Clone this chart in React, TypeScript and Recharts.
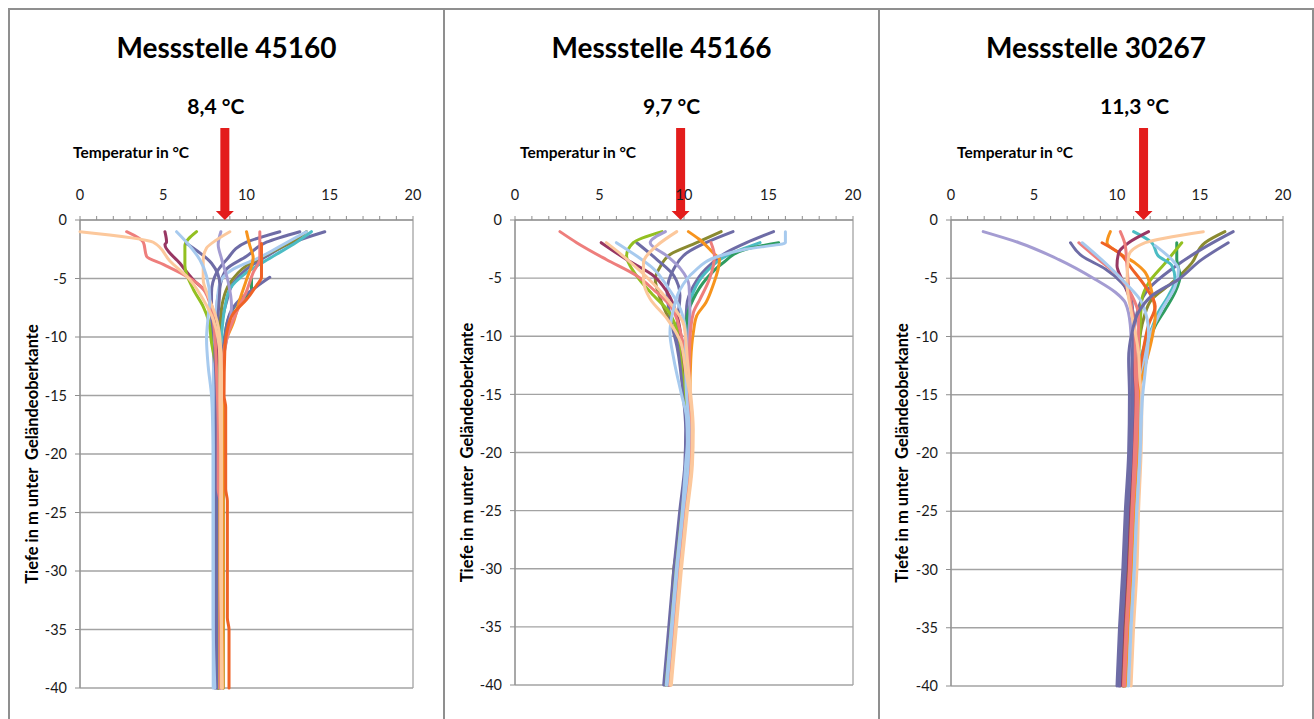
import React from 'react';
import { ScatterChart, Scatter, XAxis, YAxis, CartesianGrid, ReferenceDot } from 'recharts';

type Pt = [number, number];
interface Series { c: string; pts: Pt[] }

const FONT = 'Lato, "Open Sans", sans-serif';

const COLORS: Record<string, string> = {
  slate: '#6E6CA6',
  maroon: '#983763',
  lime: '#93C021',
  lightBlue: '#A7CAEE',
  peach: '#FCC89C',
  salmon: '#EE7E7C',
  orange: '#F7941E',
  redOrange: '#EF6226',
  teal: '#4CBCC4',
  olive: '#8A8A30',
  green: '#2F9C60',
  lavender: '#A49CD2',
};

const TITLES = ['Messstelle 45160', 'Messstelle 45166', 'Messstelle 30267'];
const MEAN_LABELS = ['8,4 °C', '9,7 °C', '11,3 °C'];
const ARROW_AT = [8.7, 9.8, 11.6];
const X_AXIS_TITLE = 'Temperatur in °C';
const Y_AXIS_TITLE = 'Tiefe in m unter  Geländeoberkante';
const X_TICKS = [0, 1, 2, 3, 4, 5, 6, 7, 8, 9, 10, 11, 12, 13, 14, 15, 16, 17, 18, 19, 20];
const GRID_X = [0, 5, 10, 15, 20];
const Y_TICKS = [0, -5, -10, -15, -20, -25, -30, -35, -40];

const p1Series: Series[] = [
  { c: 'slate', pts: [[14.7, -1], [12.8, -1.9], [11.2, -3.1], [10, -4.2], [9.2, -5.4], [8.8, -7], [8.5, -9], [8.4, -12], [8.3, -20], [8.3, -40]] },
  { c: 'olive', pts: [[13.6, -1], [12.8, -1.8], [11.4, -2.8], [10, -3.9], [9, -5.4], [8.6, -6.8], [8.4, -9], [8.3, -12], [8.3, -40]] },
  { c: 'teal', pts: [[13.9, -1], [13, -1.9], [11.6, -3.1], [10, -4.5], [9, -5.9], [8.7, -7.5], [8.5, -10], [8.4, -14], [8.4, -40]] },
  { c: 'slate', pts: [[13.2, -1], [11.2, -1.9], [10, -3.1], [8.8, -4.2], [8.4, -5.7], [8.2, -8], [8.2, -12], [8.2, -40]] },
  { c: 'slate', pts: [[12, -1], [10, -1.9], [8.8, -3.4], [8.2, -4.5], [7.9, -6.2], [7.9, -8], [8.0, -11], [8.1, -15], [8.1, -40]] },
  { c: 'lightBlue', pts: [[13.6, -1], [12.2, -2.1], [10.8, -3.2], [9.2, -4.2], [8.4, -5.4], [8.2, -7.5], [8.1, -10], [8.0, -14], [8.0, -40]] },
  { c: 'green', pts: [[10.3, -5], [10.3, -6], [10.0, -6.5], [9.4, -7.2], [8.9, -8.5], [8.7, -10], [8.6, -13], [8.6, -40]] },
  { c: 'slate', pts: [[11.4, -4.9], [10.6, -5.7], [9.6, -6.8], [9.0, -8], [8.7, -10], [8.5, -13], [8.4, -40]] },
  { c: 'orange', pts: [[10, -1], [10.2, -2.2], [10.4, -3.2], [10, -5.1], [9.6, -6.8], [9.2, -8.8], [8.8, -10.2], [8.6, -12], [8.6, -40]] },
  { c: 'maroon', pts: [[5.1, -1], [5.2, -1.9], [5.1, -2.1], [6.0, -3.7], [6.8, -5.1], [7.6, -6.2], [8.0, -7.9], [8.2, -10], [8.2, -15], [8.3, -40]] },
  { c: 'lime', pts: [[7.0, -1], [6.3, -2.2], [6.3, -3.9], [6.8, -5.9], [7.4, -7.4], [7.7, -8.5], [7.9, -10.5], [8.2, -13], [8.3, -20], [8.3, -40]] },
  { c: 'slate', pts: [[6.4, -2], [7.9, -3.7], [8.4, -5.5], [8.3, -8], [8.1, -11], [8.2, -15], [8.2, -40]] },
  { c: 'lavender', pts: [[8.46, -1], [8.3, -2.1], [8.5, -3.3], [8.9, -5.3], [9.1, -7.3], [8.9, -9.5], [8.6, -12], [8.5, -15], [8.5, -40]] },
  { c: 'salmon', pts: [[2.8, -1], [3.8, -1.9], [4.0, -3.1], [5.0, -3.8], [6.5, -4.9], [7.4, -5.9], [7.9, -7.7], [8.1, -10], [8.2, -13], [8.3, -18], [8.3, -23], [8.4, -24], [8.4, -40]] },
  { c: 'salmon', pts: [[10.8, -1], [10.8, -3.3], [10.4, -4.5], [10, -6.1], [9.4, -7.9], [8.9, -9.7], [8.6, -12], [8.5, -15], [8.5, -40]] },
  { c: 'redOrange', pts: [[10.9, -2], [10.9, -4.9], [10.6, -5.6], [10, -6.8], [9.2, -8], [8.8, -9.7], [8.7, -11], [8.65, -15], [8.75, -16], [8.75, -23], [8.85, -24], [8.85, -34], [8.95, -35], [8.95, -40]] },
  { c: 'peach', pts: [[9.0, -1], [8.2, -1.7], [7.6, -2.4], [7.4, -3.4], [7.4, -5.1], [7.7, -6.5], [8.1, -8], [8.4, -10], [8.5, -13], [8.5, -40]] },
  { c: 'lightBlue', pts: [[5.8, -1], [6.4, -1.9], [7.2, -3.4], [7.6, -4.8], [7.8, -6.8], [7.7, -8.2], [7.6, -10.2], [7.7, -12.5], [7.9, -15], [7.96, -17], [8.0, -20], [8.0, -34], [8.1, -40]] },
  { c: 'peach', pts: [[0, -1], [4.4, -1.9], [5.4, -3.5], [6.6, -5.1], [7.4, -6.8], [8.0, -8.5], [8.3, -10.2], [8.4, -12], [8.4, -15], [8.45, -20], [8.45, -30], [8.5, -35], [8.55, -40]] },
];

const p2Series: Series[] = [
  { c: 'slate', pts: [[15.3, -1], [13.7, -1.95], [12.5, -2.8], [11.3, -4.2], [10.55, -5.7], [10.16, -7.4], [10.1, -10], [10.05, -15], [10.2, -18], [10.15, -21], [9.85, -25], [9.5, -30], [9.2, -35], [8.9, -40]] },
  { c: 'teal', pts: [[14.5, -1.95], [12.5, -3.1], [11.3, -4.5], [10.55, -6.2], [10.26, -8.3], [10.2, -11], [10.25, -15], [10.4, -18], [10.35, -21], [10.05, -25], [9.7, -30], [9.4, -35], [9.1, -40]] },
  { c: 'green', pts: [[15.6, -1.95], [13.7, -2.5], [12.3, -3.7], [11.3, -5.1], [10.55, -6.8], [10.16, -8.5], [10.1, -11], [10.2, -15], [10.35, -18], [10.3, -21], [10.0, -25], [9.65, -30], [9.35, -35], [9.05, -40]] },
  { c: 'olive', pts: [[12.2, -1], [10.75, -1.95], [9.2, -2.95], [8.6, -4], [8.3, -5.1], [8.6, -6.8], [9.2, -8.8], [9.8, -11], [10.1, -15], [10.25, -18], [10.2, -21], [9.9, -25], [9.5, -29], [9.4, -30], [9.25, -35], [8.95, -40]] },
  { c: 'slate', pts: [[12.9, -1], [11.3, -1.95], [10.2, -2.8], [9.4, -4.2], [9.0, -6.2], [9.2, -8.5], [9.6, -11], [9.95, -15], [10.1, -18], [10.05, -21], [9.75, -25], [9.4, -30], [9.1, -35], [8.8, -40]] },
  { c: 'slate', pts: [[7.2, -1.95], [8.4, -3.4], [9.4, -4.8], [9.76, -6.5], [9.6, -9.1], [9.8, -12], [10.0, -15], [10.15, -18], [10.1, -21], [9.8, -25], [9.45, -30], [9.15, -35], [8.85, -40]] },
  { c: 'lime', pts: [[8.7, -1], [7.0, -1.95], [6.6, -3.1], [7.2, -4.8], [8.2, -6.5], [9.0, -7.7], [9.6, -9.5], [9.9, -12], [10.1, -15], [10.25, -18], [10.2, -21], [9.9, -25], [9.55, -30], [9.25, -35], [8.95, -40]] },
  { c: 'maroon', pts: [[5.1, -1.95], [6.6, -3.4], [8.2, -4.8], [9.0, -6.2], [9.6, -8.3], [9.9, -11], [10.2, -15], [10.35, -18], [10.3, -21], [10.0, -25], [9.65, -30], [9.35, -35], [9.05, -40]] },
  { c: 'lavender', pts: [[8.9, -1], [8.0, -1.95], [9.0, -3.1], [9.8, -4.2], [10.3, -5.7], [10.35, -8], [10.26, -10.3], [10.2, -13], [10.25, -15], [10.4, -18], [10.35, -21], [10.05, -25], [9.7, -30], [9.4, -35], [9.1, -40]] },
  { c: 'orange', pts: [[10.26, -1], [10.9, -1.66], [11.7, -2.8], [12.1, -3.4], [11.7, -5.7], [11.3, -7.1], [10.75, -8.25], [10.55, -9.7], [10.4, -12], [10.35, -15], [10.5, -18], [10.5, -20], [10.45, -21], [10.15, -25], [9.8, -30], [9.5, -35], [9.2, -40]] },
  { c: 'salmon', pts: [[11.6, -1.95], [11.8, -3.1], [11.5, -5.1], [10.95, -6.8], [10.55, -8], [10.35, -10.3], [10.3, -13], [10.3, -15], [10.45, -18], [10.4, -21], [10.1, -25], [9.75, -30], [9.45, -35], [9.15, -40]] },
  { c: 'salmon', pts: [[2.66, -1], [3.65, -1.95], [5.4, -3.4], [7.2, -4.8], [8.2, -6], [9.2, -7.4], [9.8, -9.7], [10.1, -12], [10.2, -15], [10.4, -18], [10.3, -21], [10.05, -25], [9.7, -30], [9.4, -35], [9.1, -40]] },
  { c: 'lightBlue', pts: [[6.0, -1.95], [7.2, -3.1], [8.2, -4.2], [9.0, -5.7], [9.8, -7.7], [10.1, -10], [10.1, -13], [10.15, -15], [10.3, -18], [10.25, -21], [9.95, -25], [9.6, -30], [9.3, -35], [9.0, -40]] },
  { c: 'peach', pts: [[5.4, -1.95], [6.4, -3.1], [7.5, -4.5], [9.0, -6.8], [10.0, -9.1], [10.2, -12], [10.4, -15], [10.55, -18], [10.5, -21], [10.2, -25], [9.85, -30], [9.55, -35], [9.25, -40]] },
  { c: 'lightBlue', pts: [[16, -1], [16, -1.95], [13.7, -2.5], [12.1, -3.1], [10.55, -4.5], [9.76, -6], [9.37, -7.7], [9.17, -9.7], [9.4, -12], [9.85, -15], [10.15, -17], [10.2, -19], [10.1, -21], [9.9, -25], [9.55, -30], [9.25, -35], [8.95, -40]] },
  { c: 'peach', pts: [[9.57, -1], [8.4, -2.2], [7.6, -3.7], [7.6, -5.1], [8.0, -6.8], [9.0, -8.5], [9.8, -10.5], [10.1, -13], [10.35, -15], [10.5, -18], [10.45, -21], [10.15, -25], [9.8, -30], [9.5, -35], [9.2, -40]] },
];

const p3Series: Series[] = [
  { c: 'lavender', pts: [[1.94, -1], [4.1, -1.95], [6.5, -3.4], [8.7, -5.1], [9.9, -6.2], [10.5, -7.1], [10.8, -9], [10.9, -12], [11.1, -15], [11.0, -20], [10.8, -25], [10.65, -30], [10.45, -35], [10.3, -40]] },
  { c: 'olive', pts: [[16.5, -1], [15.3, -1.95], [14.5, -3.7], [13.3, -5.4], [12.1, -6.8], [11.6, -8.5], [11.3, -11], [11.15, -15], [11.05, -20], [10.85, -25], [10.7, -30], [10.5, -35], [10.35, -40]] },
  { c: 'slate', pts: [[17, -1], [15.1, -2.5], [13.3, -4.2], [11.9, -5.9], [11.3, -7.5], [11.0, -10], [10.9, -13], [10.9, -15], [10.8, -20], [10.6, -25], [10.45, -30], [10.25, -35], [10.1, -40]] },
  { c: 'green', pts: [[13.6, -1.95], [13.6, -3.4], [13.8, -4.8], [13.5, -6.2], [12.9, -7.7], [12.3, -9.1], [11.8, -11], [11.4, -13], [11.2, -15], [11.1, -20], [10.9, -25], [10.75, -30], [10.55, -35], [10.4, -40]] },
  { c: 'lime', pts: [[13.9, -1.95], [12.9, -3.7], [11.9, -5.4], [11.5, -6.8], [11.4, -9], [11.3, -12], [11.25, -15], [11.15, -20], [10.95, -25], [10.8, -30], [10.6, -35], [10.45, -40]] },
  { c: 'teal', pts: [[11.0, -1], [12.1, -1.95], [12.5, -3.1], [13.3, -3.9], [13.5, -5.1], [13.1, -6.5], [12.5, -7.9], [12.1, -9.3], [11.6, -11], [11.3, -13], [11.3, -15], [11.2, -20], [11.0, -25], [10.85, -30], [10.65, -35], [10.5, -40]] },
  { c: 'lightBlue', pts: [[12.3, -2.2], [13.3, -3.4], [13.7, -4.2], [13.5, -5.7], [12.7, -7.7], [12.1, -9.5], [11.6, -12], [11.4, -15], [11.3, -20], [11.1, -25], [10.95, -30], [10.75, -35], [10.6, -40]] },
  { c: 'orange', pts: [[9.6, -1], [9.4, -1.95], [10.1, -2.8], [11.1, -3.7], [11.7, -4.5], [12.1, -6.2], [12.3, -8.2], [12.1, -10.2], [11.7, -12.5], [11.3, -15], [11.2, -20], [11.0, -25], [10.85, -30], [10.65, -35], [10.5, -40]] },
  { c: 'redOrange', pts: [[9.1, -1.95], [10.1, -2.8], [10.9, -4.2], [11.7, -5.7], [12.3, -7.4], [11.9, -9], [11.6, -11], [11.2, -15], [11.1, -20], [10.9, -25], [10.75, -30], [10.55, -35], [10.4, -40]] },
  { c: 'maroon', pts: [[11.9, -1], [10.7, -1.95], [10.1, -2.8], [10.0, -3.9], [10.3, -5.1], [10.7, -6.5], [11.0, -8.5], [11.0, -11], [11.0, -15], [10.9, -20], [10.7, -25], [10.55, -30], [10.35, -35], [10.2, -40]] },
  { c: 'slate', pts: [[7.2, -1.95], [7.9, -3.1], [9.3, -4.2], [10.3, -5.4], [10.9, -7], [11.0, -10], [10.9, -13], [10.95, -15], [10.85, -20], [10.65, -25], [10.5, -30], [10.3, -35], [10.15, -40]] },
  { c: 'salmon', pts: [[10.2, -1], [10.5, -2.2], [10.6, -3.9], [10.7, -5.7], [10.9, -7.7], [11.1, -10], [11.1, -13], [11.15, -15], [11.05, -20], [10.9, -25], [10.75, -30], [10.55, -35], [10.4, -40]] },
  { c: 'salmon', pts: [[7.7, -1.95], [8.9, -3.4], [10.1, -4.8], [10.9, -6.5], [11.3, -8.2], [11.3, -11], [11.2, -14], [11.25, -15], [11.15, -20], [10.95, -25], [10.8, -30], [10.6, -35], [10.45, -40]] },
  { c: 'peach', pts: [[15.2, -1], [11.7, -1.95], [10.7, -3.1], [10.6, -5.4], [10.9, -8.2], [11.3, -11.4], [11.4, -14], [11.5, -15], [11.45, -20], [11.3, -25], [11.2, -30], [11.0, -35], [10.85, -40]] },
  { c: 'lightBlue', pts: [[7.9, -1.95], [9.3, -3.7], [10.5, -5.4], [11.5, -7.1], [11.9, -9.7], [11.7, -13], [11.55, -15], [11.4, -20], [11.2, -25], [11.05, -30], [10.85, -35], [10.7, -40]] },
  { c: 'slate', pts: [[16.7, -1.95], [15.1, -3.4], [13.7, -5.1], [12.1, -6.5], [11.3, -7.9], [10.9, -9.7], [10.7, -11.9], [10.75, -15], [10.7, -20], [10.5, -25], [10.35, -30], [10.15, -35], [10.0, -40]] },
];

const PANELS = [
  { left: 9, width: 435, margin: { top: 190, right: 31, bottom: 31, left: 31 }, xTitleX: 64, series: p1Series },
  { left: 444, width: 435, margin: { top: 190, right: 26, bottom: 34, left: 31 }, xTitleX: 76, series: p2Series },
  { left: 879, width: 434, margin: { top: 190, right: 30, bottom: 33, left: 32 }, xTitleX: 78, series: p3Series },
];

const GRID_COLOR = '#a3a3a3';
const AXIS_COLOR = '#8e8e8e';
const TEXT_COLOR = '#1a1a1a';

const renderNone = () => <g />;

const renderXTick = (props: any) => {
  const { x, y, payload } = props;
  if (payload.value % 5 !== 0) return <g />;
  return (
    <text x={x} y={y} textAnchor="middle" fontSize={14.5} fill={TEXT_COLOR} fontFamily={FONT}>
      {payload.value}
    </text>
  );
};

function makeArrow(label: string) {
  return (p: any) => {
    const { cx, cy } = p;
    const pts = [
      [cx - 4.5, cy - 92], [cx + 4.5, cy - 92], [cx + 4.5, cy - 9], [cx + 9, cy - 9],
      [cx, cy], [cx - 9, cy - 9], [cx - 4.5, cy - 9],
    ].map((q) => q.join(',')).join(' ');
    return (
      <g>
        <polygon points={pts} fill="#E31D1C" />
        <text x={cx - 9} y={cy - 106} textAnchor="middle" fontSize={21} fontWeight="bold" fill="#000" fontFamily={FONT}>
          {label}
        </text>
      </g>
    );
  };
}

function Panel({ idx }: { idx: number }) {
  const P = PANELS[idx];
  const plotTop = P.margin.top + 30;
  const plotBottom = 719 - P.margin.bottom;
  const yMid = (plotTop + plotBottom) / 2;
  return (
    <div style={{ position: 'absolute', left: P.left, top: 0, width: P.width, height: 719 }}>
      <ScatterChart width={P.width} height={719} margin={P.margin}>
        <CartesianGrid xAxisId="g" stroke={GRID_COLOR} strokeWidth={1.3} />
        <XAxis xAxisId="g" type="number" dataKey="x" domain={[0, 20]} ticks={GRID_X} orientation="top" hide />
        <XAxis
          type="number"
          dataKey="x"
          orientation="top"
          domain={[0, 20]}
          ticks={X_TICKS}
          interval={0}
          height={30}
          tickSize={4}
          tickMargin={16}
          stroke={AXIS_COLOR}
          tick={renderXTick}
        />
        <YAxis
          type="number"
          dataKey="y"
          domain={[-40, 0]}
          ticks={Y_TICKS}
          interval={0}
          width={40}
          tickSize={5}
          tickMargin={8}
          stroke={AXIS_COLOR}
          tick={{ fill: TEXT_COLOR, fontSize: 14.5, fontFamily: FONT }}
        />
        {P.series.map((s, i) => (
          <Scatter
            key={i}
            data={s.pts.map(([x, y]) => ({ x, y }))}
            fill={COLORS[s.c]}
            line={{ stroke: COLORS[s.c], strokeWidth: 3, strokeLinejoin: 'round', strokeLinecap: 'round' }}
            lineJointType="monotoneY"
            shape={renderNone}
            isAnimationActive={false}
          />
        ))}
        <ReferenceDot x={ARROW_AT[idx]} y={0} r={0} ifOverflow="visible" shape={makeArrow(MEAN_LABELS[idx])} />
      </ScatterChart>
      <svg width={P.width} height={719} style={{ position: 'absolute', left: 0, top: 0, pointerEvents: 'none' }}>
        <text x={P.width / 2} y={58} textAnchor="middle" fontSize={28} fontWeight="bold" fill="#000" fontFamily={FONT}>
          {TITLES[idx]}
        </text>
        <text x={P.xTitleX} y={158} fontSize={15.5} fontWeight="bold" fill="#000" fontFamily={FONT}>
          {X_AXIS_TITLE}
        </text>
        <text
          transform={`translate(29, ${yMid}) rotate(-90)`}
          x={0}
          y={0}
          textAnchor="middle"
          fontSize={16.5}
          fontWeight="bold"
          fill="#000"
          fontFamily={FONT}
          style={{ whiteSpace: 'pre' }}
        >
          {Y_AXIS_TITLE}
        </text>
      </svg>
    </div>
  );
}

export default function App() {
  const borderColor = '#8f8f8f';
  const vx = [9, 444, 879, 1313];
  return (
    <div style={{ position: 'fixed', left: 0, top: 0, width: 1314, height: 719, background: '#fff', overflow: 'hidden' }}>
      {vx.map((x) => (
        <div key={x} style={{ position: 'absolute', left: x - 1, top: 9, width: 1.5, height: 720, background: borderColor }} />
      ))}
      <div style={{ position: 'absolute', left: 8, top: 8, width: 1306, height: 1.5, background: borderColor }} />
      <Panel idx={0} />
      <Panel idx={1} />
      <Panel idx={2} />
    </div>
  );
}
